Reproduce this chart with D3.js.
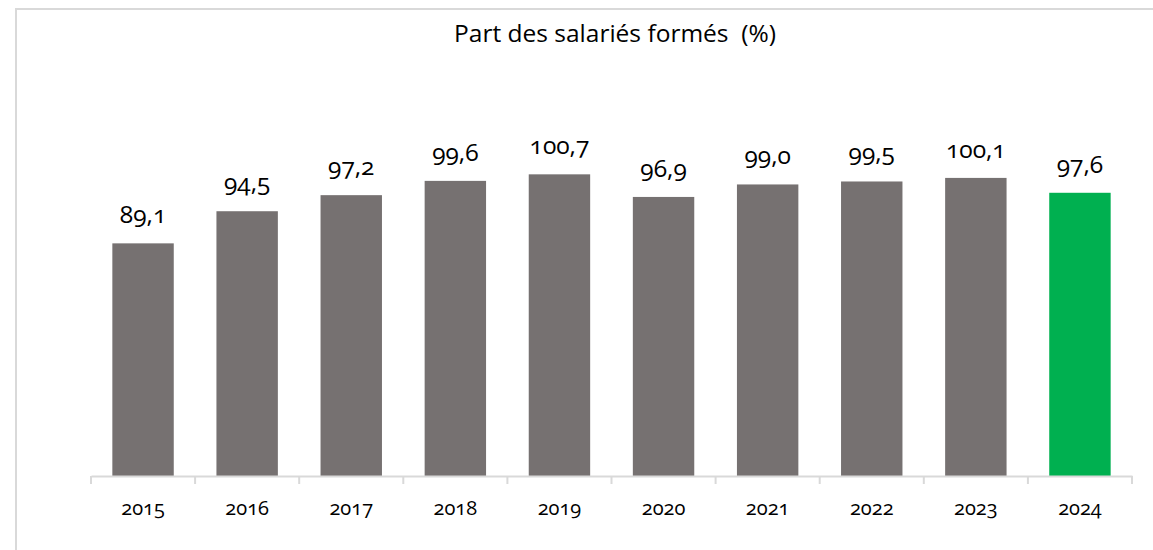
<!DOCTYPE html>
<html>
<head>
<meta charset="utf-8">
<script src="https://cdn.jsdelivr.net/npm/d3@7"></script>
<style>
  body { margin: 0; background: #fff; }
  svg text { font-family: "Open Sans", "Noto Sans", sans-serif; fill: #000; }
  .num { font-variant-numeric: oldstyle-nums; font-feature-settings: "onum" 1; }
</style>
</head>
<body>
<div id="chart"></div>
<script>
var w = 1153, h = 550;

// donnees
var annees = ["2015", "2016", "2017", "2018", "2019", "2020", "2021", "2022", "2023", "2024"];
var valeurs = [89.1, 94.5, 97.2, 99.6, 100.7, 96.9, 99.0, 99.5, 100.1, 97.6];
var couleurs = ["#767171", "#767171", "#767171", "#767171", "#767171", "#767171", "#767171", "#767171", "#767171", "#00b050"];
var titre = "Part des salariés formés  (%)";

var svg = d3.select("#chart").append("svg")
    .attr("width", w)
    .attr("height", h);

// cadre gris (deborde a droite et en bas)
svg.append("rect")
    .attr("x", 16).attr("y", 9)
    .attr("width", 1160).attr("height", 580)
    .attr("fill", "none")
    .attr("stroke", "#d9d9d9")
    .attr("stroke-width", 2);

var x = d3.scaleBand()
    .domain(annees)
    .range([91, 1132])
    .paddingInner(0.41)
    .paddingOuter(0.205);

var y = d3.scaleLinear()
    .domain([50, 120])
    .range([476, 59.5]);

svg.append("text")
    .attr("x", 615)
    .attr("y", 42)
    .attr("text-anchor", "middle")
    .style("font-size", "24.5px")
    .style("white-space", "pre")
    .text(titre);

svg.selectAll("rect.barre")
    .data(valeurs)
    .enter()
    .append("rect")
    .attr("class", "barre")
    .attr("x", function (d, i) { return x(annees[i]); })
    .attr("y", function (d) { return y(d); })
    .attr("width", x.bandwidth())
    .attr("height", function (d) { return y(50) - y(d); })
    .attr("fill", function (d, i) { return couleurs[i]; });

svg.selectAll("text.etiq")
    .data(valeurs)
    .enter()
    .append("text")
    .attr("class", "etiq num")
    .attr("x", function (d, i) { return x(annees[i]) + x.bandwidth() / 2; })
    .attr("y", function (d) { return y(d) - 20; })
    .attr("text-anchor", "middle")
    .style("font-size", "24.5px")
    .text(function (d) { return d3.format(".1f")(d).replace(".", ","); });

// axe des abscisses
var axe = d3.axisBottom(x)
    .tickSizeInner(0)
    .tickSizeOuter(0)
    .tickPadding(0);

var gAxe = svg.append("g")
    .attr("transform", "translate(0,476)")
    .call(axe);

gAxe.select(".domain").attr("stroke", "#d9d9d9").attr("stroke-width", 2);
gAxe.selectAll(".tick line").remove();
gAxe.selectAll(".tick text")
    .attr("class", "num")
    .attr("y", 39)
    .attr("dy", null)
    .style("font-size", "20px");

// graduations entre les categories
var bords = annees.map(function (a) { return x(a) - x.step() * x.paddingInner() / 2; });
bords.push(1132);
bords[0] = 91;
svg.selectAll("line.grad")
    .data(bords)
    .enter()
    .append("line")
    .attr("class", "grad")
    .attr("x1", function (d) { return d; })
    .attr("x2", function (d) { return d; })
    .attr("y1", 476)
    .attr("y2", 484)
    .attr("stroke", "#d9d9d9")
    .attr("stroke-width", 2);
</script>
</body>
</html>
